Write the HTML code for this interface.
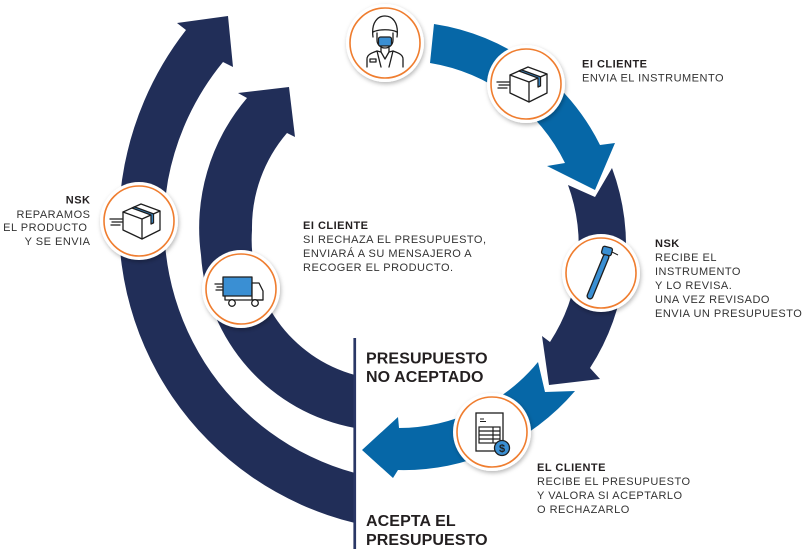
<!DOCTYPE html>
<html>
<head>
<meta charset="utf-8">
<style>
  html,body{margin:0;padding:0;background:#fff;}
  svg{display:block;}
  .sm{font-family:"Liberation Sans",sans-serif;font-size:11px;letter-spacing:0.5px;fill:#333;}
  .smb{font-family:"Liberation Sans",sans-serif;font-size:11px;letter-spacing:0.5px;font-weight:bold;fill:#231f20;}
  .big{font-family:"Liberation Sans",sans-serif;font-size:16px;font-weight:bold;fill:#231f20;letter-spacing:0.1px;}
</style>
</head>
<body>
<svg width="806" height="549" viewBox="0 0 806 549" xmlns="http://www.w3.org/2000/svg">
  <defs>
    <filter id="sh" x="-30%" y="-30%" width="160%" height="160%">
      <feDropShadow dx="1" dy="2" stdDeviation="2.2" flood-color="#000" flood-opacity="0.28"/>
    </filter>
    <g id="badge">
      <circle r="39" fill="#fff" filter="url(#sh)"/>
      <circle r="35" fill="none" stroke="#ef7d2f" stroke-width="1.6"/>
    </g>
    <g id="box" stroke="#1e1e1e" stroke-width="1.3" stroke-linejoin="round" stroke-linecap="round">
      <path d="M-29,-2 H-17 M-27,1 H-17 M-28,4 H-19" fill="none"/>
      <path d="M-16,-9 L2,-17 L21,-10 L21,9 L3,18 L-16,9 Z" fill="#fff"/>
      <path d="M-16,-9 L3,-2 L21,-10 M3,-2 L3,18" fill="none"/>
      <path d="M-7,-13 L-4.5,-14.1 L14.5,-7.1 L14.5,1.9 L12,3 L12,-6 Z" fill="#3a8fd3"/>
    </g>
  </defs>

  <!-- LEFT OUTER BAND -->
  <path d="M355,523 A308,308 0 0 1 122,180 A318,318 0 0 1 186,30 L177,23 L228,16 L233,67 L223,62 A262,262 0 0 0 168,180 A258,258 0 0 0 355,473 Z" fill="#212e58"/>
  <!-- LEFT INNER BAND -->
  <path d="M355,428 A188,188 0 0 1 201,255 A200,200 0 0 1 247,98 L238,93 L289,87 L295,137 L287,133 A145,145 0 0 0 252,230 A140,140 0 0 0 355,375 Z" fill="#212e58"/>

  <!-- RIGHT LOOP -->
  <path d="M434,24 A222,222 0 0 1 600,145 L615,143 L595,190 L547,166 L565,163 A183,183 0 0 0 430,63 Z" fill="#0667a7"/>
  <path d="M568,185 L595,197 L612,168 A224,224 0 0 1 590,368 L600,379 L549,385 L542,336 L550,342 A176,176 0 0 0 568,185 Z" fill="#212e58"/>
  <path d="M538,362 L545,392 L575,391 A225,225 0 0 1 398,470 L393,478 L362,450 L398,417 L399,428 A181,181 0 0 0 538,362 Z" fill="#0667a7"/>

  <!-- vertical line -->
  <rect x="353.4" y="338" width="2.7" height="211" fill="#2a3766"/>

  <!-- BADGES -->
  <!-- doctor -->
  <g transform="translate(385,43)">
    <use href="#badge"/>
    <g fill="none" stroke="#1e1e1e" stroke-width="1.3" stroke-linejoin="round" stroke-linecap="round">
      <path d="M-12,-6 C-14,-21 -7,-27 0,-27 C7,-27 14,-21 12,-6"/>
      <path d="M-12,-11 C-6,-14 6,-14 12,-11"/>
      <path d="M-8,-10 L-8,-3 C-8,2 -4,5 0,5 C4,5 8,2 8,-3 L8,-10"/>
      <rect x="-6.5" y="-6" width="13" height="9" rx="2" fill="#3a8fd3"/>
      <path d="M-4,5 L-4,9 M4,5 L4,9"/>
      <path d="M-18,24 L-18,16 C-18,12 -14,10 -8,8 L-4,9 L0,16 L4,9 L8,8 C14,10 18,12 18,16 L18,24"/>
      <path d="M-8,8 L-4,24 M8,8 L4,24"/>
      <rect x="-15" y="16" width="6" height="3"/>
    </g>
  </g>
  <!-- box right -->
  <g transform="translate(526,84)">
    <use href="#badge"/>
    <use href="#box"/>
  </g>
  <!-- instrument -->
  <g transform="translate(601,273)">
    <use href="#badge"/>
    <path d="M5,-16 L-11,23" stroke="#1e1e1e" stroke-width="7" stroke-linecap="round"/>
    <path d="M5,-16 L-11,23" stroke="#3a8fd3" stroke-width="4.4" stroke-linecap="round"/>
    <rect x="1" y="-26" width="10" height="8" rx="2" transform="rotate(15 6 -22)" fill="#3a8fd3" stroke="#1e1e1e" stroke-width="1.3"/>
    <path d="M11,-21 L17,-18" stroke="#1e1e1e" stroke-width="1"/>
  </g>
  <!-- document -->
  <g transform="translate(492,432)">
    <use href="#badge"/>
    <g stroke="#1e1e1e" stroke-width="1.2" fill="none">
      <rect x="-16" y="-19" width="27" height="38" fill="#fff" stroke-width="1.3"/>
      <path d="M-12,-13 H-8 M-12,-10.5 H-6" stroke-width="1"/>
      <rect x="-13" y="-5" width="21" height="16"/>
      <path d="M-13,-1 H8 M-13,3 H8 M-13,7 H8 M1,-5 V11"/>
      <circle cx="10" cy="16" r="7.5" fill="#3a8fd3" stroke-width="1.3"/>
    </g>
    <text x="10" y="20" font-family="Liberation Sans, sans-serif" font-size="11" font-weight="bold" text-anchor="middle" fill="#1e1e1e">$</text>
  </g>
  <!-- box left -->
  <g transform="translate(139,221)">
    <use href="#badge"/>
    <use href="#box"/>
  </g>
  <!-- truck -->
  <g transform="translate(241,289)">
    <use href="#badge"/>
    <g stroke="#1e1e1e" stroke-width="1.3" stroke-linejoin="round" stroke-linecap="round">
      <path d="M-26,-5 H-19 M-24,-2 H-19 M-25,1 H-19" fill="none"/>
      <rect x="-18" y="-12" width="29" height="19" fill="#3a8fd3"/>
      <path d="M11,-6 L18,-6 L22,2 L22,11 L11,11 Z" fill="#fff"/>
      <path d="M-16,7 L-16,11 L22,11" fill="none"/>
      <circle cx="-9" cy="14" r="3.3" fill="#fff"/>
      <circle cx="14" cy="14" r="3.3" fill="#fff"/>
    </g>
  </g>

  <!-- TEXT -->
  <text class="smb" x="582" y="67.5">EI CLIENTE</text>
  <text class="sm" x="582" y="81.5">ENVIA EL INSTRUMENTO</text>

  <text class="smb" x="655" y="247.2">NSK</text>
  <text class="sm" x="655" y="261.2">RECIBE EL</text>
  <text class="sm" x="655" y="275.1">INSTRUMENTO</text>
  <text class="sm" x="655" y="289.1">Y LO REVISA.</text>
  <text class="sm" x="655" y="303">UNA VEZ REVISADO</text>
  <text class="sm" x="655" y="317">ENVIA UN PRESUPUESTO</text>

  <text class="smb" x="303" y="229">EI CLIENTE</text>
  <text class="sm" x="303" y="243">SI RECHAZA EL PRESUPUESTO,</text>
  <text class="sm" x="303" y="257">ENVIARÁ A SU MENSAJERO A</text>
  <text class="sm" x="303" y="271">RECOGER EL PRODUCTO.</text>

  <text class="smb" x="90.5" y="203.6" text-anchor="end">NSK</text>
  <text class="sm" x="90.5" y="217.9" text-anchor="end">REPARAMOS</text>
  <text class="sm" x="87.5" y="231.2" text-anchor="end">EL PRODUCTO</text>
  <text class="sm" x="90.5" y="245.2" text-anchor="end">Y SE ENVIA</text>

  <text class="smb" x="537" y="471.2">EL CLIENTE</text>
  <text class="sm" x="537" y="485.2">RECIBE EL PRESUPUESTO</text>
  <text class="sm" x="537" y="499.2">Y VALORA SI ACEPTARLO</text>
  <text class="sm" x="537" y="513.2">O RECHAZARLO</text>

  <text class="big" x="366" y="363.3">PRESUPUESTO</text>
  <text class="big" x="366" y="382">NO ACEPTADO</text>
  <text class="big" x="366" y="526">ACEPTA EL</text>
  <text class="big" x="366" y="545">PRESUPUESTO</text>
</svg>
</body>
</html>
